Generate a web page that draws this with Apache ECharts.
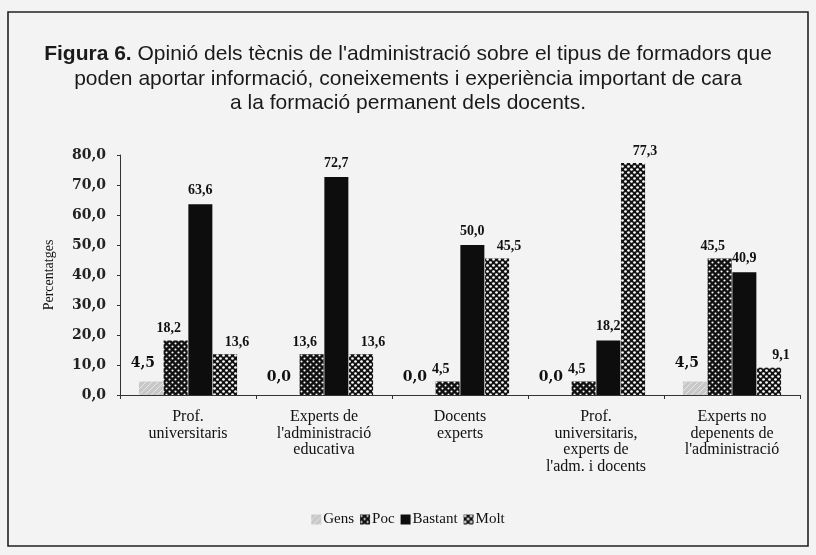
<!DOCTYPE html>
<html>
<head>
<meta charset="utf-8">
<script src="https://cdn.jsdelivr.net/npm/echarts@6/dist/echarts.min.js"></script>
<style>
html,body{margin:0;padding:0;background:#f3f3f3;}
#c{width:816px;height:555px;}
</style>
</head>
<body>
<div id="c"></div>
<script>
const categories = [
  "Prof.\nuniversitaris",
  "Experts de\nl'administració\neducativa",
  "Docents\nexperts",
  "Prof.\nuniversitaris,\nexperts de\nl'adm. i docents",
  "Experts no\ndepenents de\nl'administració"
];
const seriesNames = ["Gens", "Poc", "Bastant", "Molt"];
const gens = [4.5, 0.0, 0.0, 0.0, 4.5];
const poc = [18.2, 13.6, 4.5, 4.5, 45.5];
const bastant = [63.6, 72.7, 50.0, 18.2, 40.9];
const molt = [13.6, 13.6, 45.5, 77.3, 9.1];
const yTicks = [0, 10, 20, 30, 40, 50, 60, 70, 80];

function makePattern(bg, dot, r, size) {
  const c = document.createElement('canvas');
  c.width = size; c.height = size;
  const g = c.getContext('2d');
  g.fillStyle = bg; g.fillRect(0, 0, size, size);
  g.fillStyle = dot;
  const h = size / 2;
  [[h/2, h/2], [h/2 + h, h/2 + h]].forEach(function(p){
    g.beginPath(); g.arc(p[0], p[1], r, 0, Math.PI * 2); g.fill();
  });
  return c;
}
function makeGens() {
  const c = document.createElement('canvas');
  c.width = 6; c.height = 6;
  const g = c.getContext('2d');
  g.fillStyle = '#c8c8c8'; g.fillRect(0, 0, 6, 6);
  g.strokeStyle = '#e6e6e6'; g.lineWidth = 1;
  g.beginPath(); g.moveTo(0, 6); g.lineTo(6, 0); g.stroke();
  return c;
}
const pocPat = { image: makePattern('#111', '#fff', 1.05, 6), repeat: 'repeat' };
const moltPat = { image: makePattern('#111', '#fff', 1.35, 6), repeat: 'repeat' };
const gensPat = { image: makeGens(), repeat: 'repeat' };

function fmt(v) { return v.toFixed(1).replace('.', ','); }

const serif = '"Liberation Serif","DejaVu Serif",serif';
const wideSerif = '"DejaVu Serif","Liberation Serif",serif';
const sans = '"Liberation Sans","Arial",sans-serif';

function mkSeries(name, data, color, offset, labelFont, fam) {
  return {
    name: name,
    type: 'bar',
    data: data,
    barWidth: 24,
    barGap: '3%',
    itemStyle: { color: color },
    label: {
      show: true,
      position: 'top',
      distance: 5,
      offset: offset,
      formatter: function(p){ return fmt(p.value); },
      fontFamily: fam,
      fontWeight: 'bold',
      fontSize: labelFont,
      color: '#111'
    }
  };
}

const chart = echarts.init(document.getElementById('c'), null, { renderer: 'canvas' });
chart.setOption({
  backgroundColor: '#f3f3f3',
  animation: false,
  title: {
    text: '{b|Figura 6.} Opinió dels tècnis de l\'administració sobre el tipus de formadors que\npoden aportar informació, coneixements i experiència important de cara\na la formació permanent dels docents.',
    left: 'center',
    top: 37,
    textStyle: {
      fontFamily: sans,
      fontSize: 21,
      fontWeight: 'normal',
      color: '#1a1a1a',
      lineHeight: 24.5,
      align: 'center',
      rich: {
        b: { fontFamily: sans, fontSize: 21, fontWeight: 'bold', color: '#1a1a1a', lineHeight: 24.5 }
      }
    }
  },
  legend: {
    bottom: 23,
    left: 'center',
    icon: 'rect',
    itemWidth: 10,
    itemHeight: 10,
    itemGap: 6,
    textStyle: { fontFamily: serif, fontSize: 15, color: '#111', padding: [0, 0, 0, -3] },
    data: seriesNames
  },
  grid: { left: 120, right: 16, top: 155, bottom: 160, containLabel: false },
  xAxis: {
    type: 'category',
    data: categories,
    axisLine: { lineStyle: { color: '#333', width: 1 } },
    axisTick: { show: true, length: 4, lineStyle: { color: '#333' } },
    axisLabel: {
      interval: 0,
      margin: 14,
      fontFamily: serif,
      fontSize: 16,
      lineHeight: 16.5,
      color: '#111'
    }
  },
  yAxis: {
    type: 'value',
    min: 0,
    max: 80,
    interval: 10,
    name: 'Percentatges',
    nameLocation: 'middle',
    nameGap: 64,
    nameTextStyle: { fontFamily: serif, fontSize: 14, color: '#111' },
    axisLine: { show: true, lineStyle: { color: '#333', width: 1 } },
    axisTick: { show: true, length: 3, lineStyle: { color: '#333' } },
    splitLine: { show: false },
    axisLabel: {
      margin: 14,
      fontFamily: wideSerif,
      fontWeight: 'bold',
      fontSize: 14,
      color: '#222',
      formatter: function(v){ return yTicks.indexOf(v) >= 0 ? fmt(v) : ''; }
    }
  },
  graphic: [
    { type: 'rect', shape: { x: 8, y: 12, width: 800, height: 534 }, style: { fill: 'none', stroke: '#222', lineWidth: 1.6 }, z: 100 }
  ],
  series: [
    mkSeries('Gens', gens, gensPat, [-8, -6], 14, wideSerif),
    mkSeries('Poc', poc, pocPat, [-7, 0], 14, serif),
    mkSeries('Bastant', bastant, '#0d0d0d', [0, -2], 14, serif),
    mkSeries('Molt', molt, moltPat, [12, 0], 14, serif)
  ]
});
</script>
</body>
</html>
